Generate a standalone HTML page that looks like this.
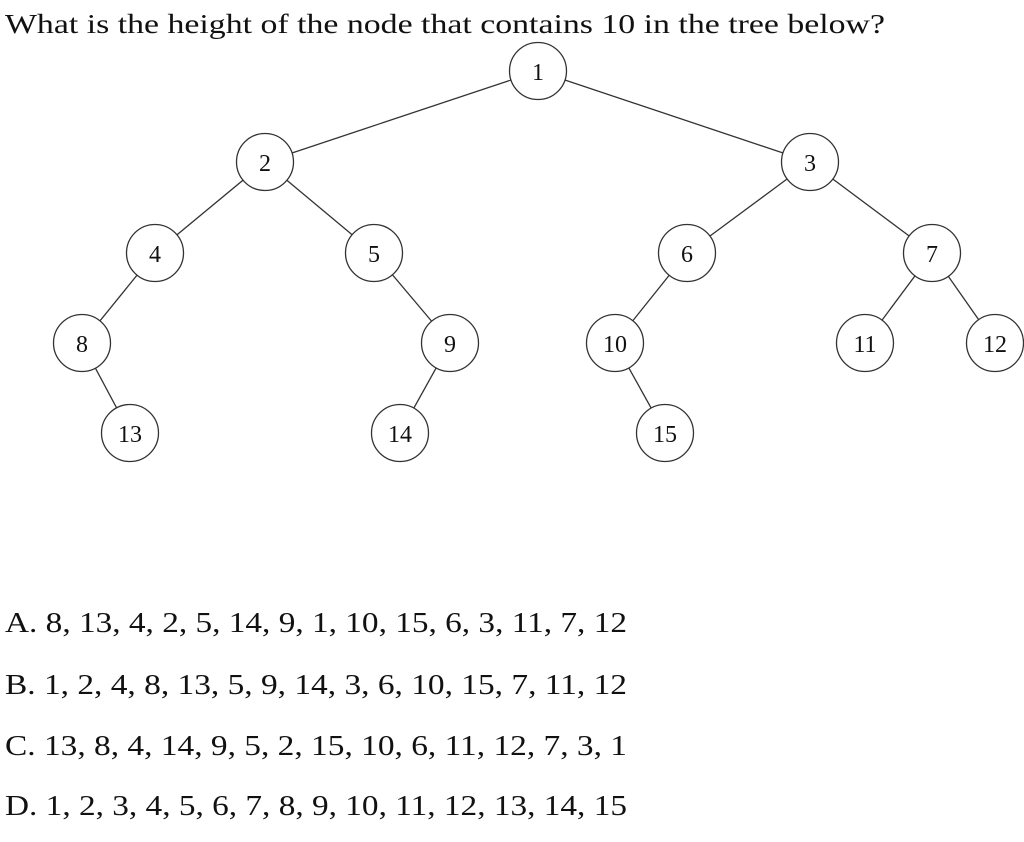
<!DOCTYPE html>
<html><head><meta charset="utf-8"><style>
html,body{margin:0;padding:0;background:#fff;}
svg{display:block;}
text{font-family:"Liberation Serif",serif;fill:#111;}
</style></head><body>
<svg width="1024" height="842" viewBox="0 0 1024 842" xmlns="http://www.w3.org/2000/svg">
<text x="5" y="33" font-size="27" textLength="880" lengthAdjust="spacingAndGlyphs">What is the height of the node that contains 10 in the tree below?</text>
<g stroke="#333" stroke-width="1.3">
<line x1="538" y1="71" x2="265" y2="162"/>
<line x1="538" y1="71" x2="810" y2="162"/>
<line x1="265" y1="162" x2="155" y2="253"/>
<line x1="265" y1="162" x2="374" y2="253"/>
<line x1="810" y1="162" x2="687" y2="253"/>
<line x1="810" y1="162" x2="932" y2="253"/>
<line x1="155" y1="253" x2="82" y2="343"/>
<line x1="374" y1="253" x2="450" y2="343"/>
<line x1="687" y1="253" x2="615" y2="343"/>
<line x1="932" y1="253" x2="865" y2="343"/>
<line x1="932" y1="253" x2="995" y2="343"/>
<line x1="82" y1="343" x2="130" y2="433"/>
<line x1="450" y1="343" x2="400" y2="433"/>
<line x1="615" y1="343" x2="665" y2="433"/>
</g>
<g fill="#fff" stroke="#333" stroke-width="1.3">
<circle cx="538" cy="71" r="28.5"/>
<circle cx="265" cy="162" r="28.5"/>
<circle cx="810" cy="162" r="28.5"/>
<circle cx="155" cy="253" r="28.5"/>
<circle cx="374" cy="253" r="28.5"/>
<circle cx="687" cy="253" r="28.5"/>
<circle cx="932" cy="253" r="28.5"/>
<circle cx="82" cy="343" r="28.5"/>
<circle cx="450" cy="343" r="28.5"/>
<circle cx="615" cy="343" r="28.5"/>
<circle cx="865" cy="343" r="28.5"/>
<circle cx="995" cy="343" r="28.5"/>
<circle cx="130" cy="433" r="28.5"/>
<circle cx="400" cy="433" r="28.5"/>
<circle cx="665" cy="433" r="28.5"/>
</g>
<g font-size="24" text-anchor="middle">
<text x="538" y="80">1</text>
<text x="265" y="171">2</text>
<text x="810" y="171">3</text>
<text x="155" y="262">4</text>
<text x="374" y="262">5</text>
<text x="687" y="262">6</text>
<text x="932" y="262">7</text>
<text x="82" y="352">8</text>
<text x="450" y="352">9</text>
<text x="615" y="352">10</text>
<text x="865" y="352">11</text>
<text x="995" y="352">12</text>
<text x="130" y="442">13</text>
<text x="400" y="442">14</text>
<text x="665" y="442">15</text>
</g>
<g font-size="28">
<text x="5" y="632" textLength="622" lengthAdjust="spacingAndGlyphs">A. 8, 13, 4, 2, 5, 14, 9, 1, 10, 15, 6, 3, 11, 7, 12</text>
<text x="5" y="694" textLength="622" lengthAdjust="spacingAndGlyphs">B. 1, 2, 4, 8, 13, 5, 9, 14, 3, 6, 10, 15, 7, 11, 12</text>
<text x="5" y="755" textLength="622" lengthAdjust="spacingAndGlyphs">C. 13, 8, 4, 14, 9, 5, 2, 15, 10, 6, 11, 12, 7, 3, 1</text>
<text x="5" y="815" textLength="622" lengthAdjust="spacingAndGlyphs">D. 1, 2, 3, 4, 5, 6, 7, 8, 9, 10, 11, 12, 13, 14, 15</text>
</g>
</svg>
</body></html>
